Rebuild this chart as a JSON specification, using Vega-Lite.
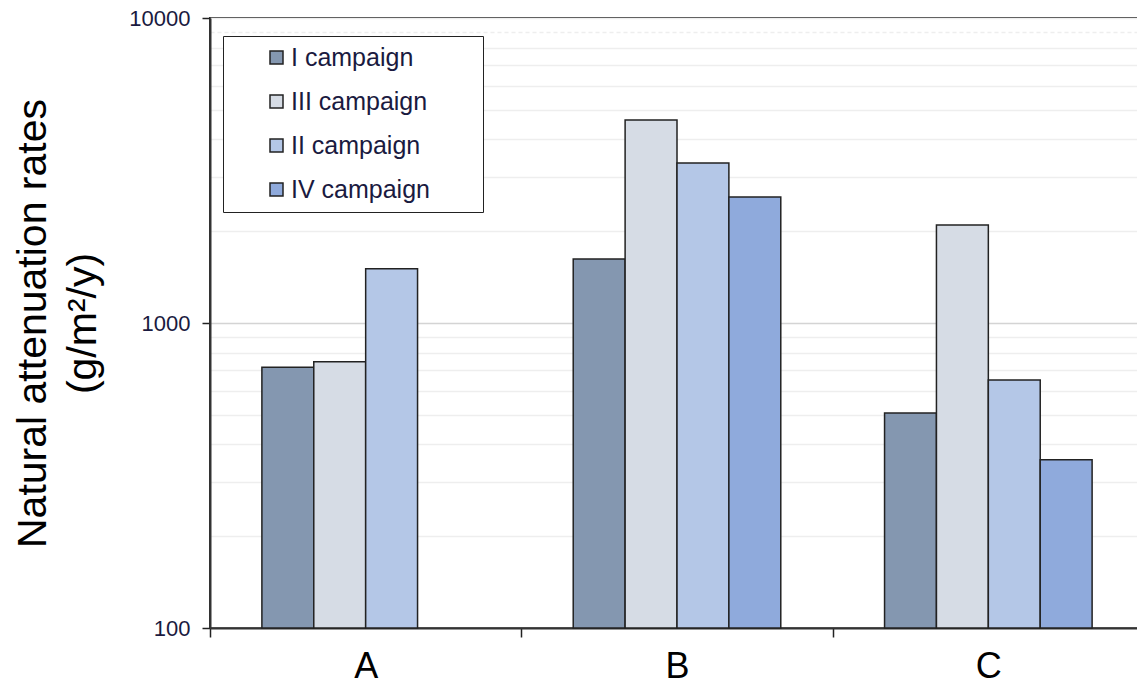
{
  "$schema": "https://vega.github.io/schema/vega-lite/v6.json",
  "autosize": {"type": "none"},
  "padding": {"left": 210, "top": 18, "right": 0, "bottom": 59},
  "width": 934,
  "height": 610,
  "background": "white",
  "config": {
    "font": "Liberation Sans",
    "view": {"stroke": "#333333", "strokeWidth": 2}
  },
  "data": {
    "values": [
      {"site": "A", "campaign": "I campaign", "rate": 716},
      {"site": "A", "campaign": "III campaign", "rate": 747},
      {"site": "A", "campaign": "II campaign", "rate": 1507},
      {"site": "B", "campaign": "I campaign", "rate": 1622},
      {"site": "B", "campaign": "III campaign", "rate": 4632},
      {"site": "B", "campaign": "II campaign", "rate": 3347},
      {"site": "B", "campaign": "IV campaign", "rate": 2588},
      {"site": "C", "campaign": "I campaign", "rate": 507},
      {"site": "C", "campaign": "III campaign", "rate": 2095},
      {"site": "C", "campaign": "II campaign", "rate": 650},
      {"site": "C", "campaign": "IV campaign", "rate": 356}
    ]
  },
  "mark": {"type": "bar", "stroke": "#222222", "strokeWidth": 1.5},
  "encoding": {
    "x": {
      "field": "site",
      "type": "nominal",
      "scale": {"paddingInner": 0, "paddingOuter": 0},
      "axis": {
        "title": null,
        "labelAngle": 0,
        "labelFontSize": 36,
        "labelColor": "black",
        "labelPadding": 12,
        "tickBand": "extent",
        "tickSize": 9,
        "tickColor": "#222222",
        "tickWidth": 1.5,
        "domainColor": "#333333",
        "domainWidth": 2,
        "grid": false
      }
    },
    "xOffset": {
      "field": "campaign",
      "type": "nominal",
      "scale": {"domain": ["I campaign", "III campaign", "II campaign", "IV campaign"], "paddingInner": 0, "paddingOuter": 1.16}
    },
    "y": {
      "field": "rate",
      "type": "quantitative",
      "scale": {"type": "log", "domain": [100, 10000], "nice": false},
      "axis": {
        "values": [100, 200, 300, 400, 500, 600, 700, 800, 900, 1000, 2000, 3000, 4000, 5000, 6000, 7000, 8000, 9000, 10000],
        "labelExpr": "(datum.value == 100 || datum.value == 1000 || datum.value == 10000) ? datum.label : ''",
        "format": "d",
        "labelFontSize": 22,
        "labelColor": "#1a1a40",
        "labelPadding": 12,
        "tickSize": 8,
        "tickColor": "#222222",
        "tickWidth": 1.5,
        "tickOpacity": {"condition": {"test": "datum.value == 100 || datum.value == 1000 || datum.value == 10000", "value": 1}, "value": 0},
        "domainColor": "#333333",
        "domainWidth": 2,
        "grid": true,
        "gridColor": {"condition": {"test": "datum.value == 1000", "value": "#d4d4d4"}, "value": "#eeeeee"},
        "gridWidth": 1.5,
        "gridDash": {"condition": {"test": "datum.value == 9000", "value": [4, 3]}, "value": []},
        "title": ["Natural attenuation rates", "(g/m²/y)"],
        "titleFontSize": 41,
        "titleFontWeight": "normal",
        "titleColor": "black",
        "titleLineHeight": 50,
        "titleAngle": -90,
        "titleAlign": "center",
        "titleBaseline": "middle",
        "titleX": -177,
        "titleY": 305
      }
    },
    "y2": {"datum": 100},
    "color": {
      "field": "campaign",
      "type": "nominal",
      "scale": {
        "domain": ["I campaign", "III campaign", "II campaign", "IV campaign"],
        "range": ["#8497B0", "#D6DCE5", "#B4C7E7", "#8FAADC"]
      },
      "legend": {
        "orient": "none",
        "legendX": 13,
        "legendY": 18,
        "title": " ",
        "titleOrient": "right",
        "titlePadding": 44,
        "padding": 9,
        "strokeColor": "#222222",
        "fillColor": "white",
        "symbolType": "square",
        "symbolSize": 169,
        "symbolStrokeColor": "#222222",
        "symbolStrokeWidth": 1.5,
        "symbolOffset": 32,
        "labelFontSize": 25,
        "labelColor": "#1a1a40",
        "labelOffset": 2,
        "rowPadding": 18
      }
    }
  }
}
